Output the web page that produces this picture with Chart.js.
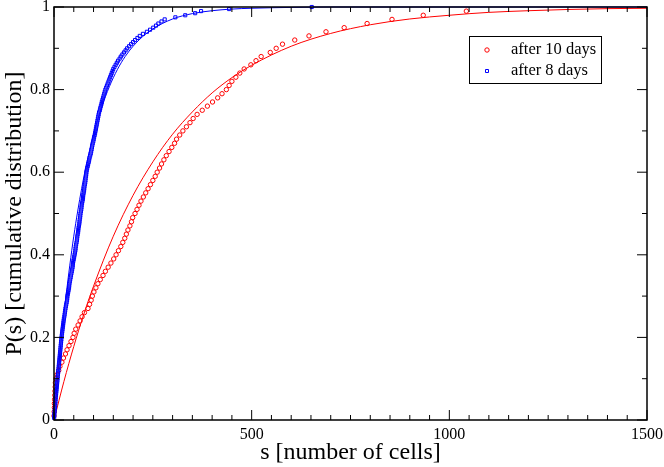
<!DOCTYPE html>
<html><head><meta charset="utf-8">
<script src="https://cdn.jsdelivr.net/npm/chart.js@4/dist/chart.umd.min.js"></script>
<style>html,body{margin:0;padding:0;background:#fff;overflow:hidden}</style>
</head><body>
<canvas id="c" width="664" height="467"></canvas>
<script>
const xTickLabels = ['0','500','1000','1500'];
const yTickLabels = ['0','0.2','0.4','0.6','0.8','1'];
const seriesNames = ['after 10 days','after 8 days'];
const xTitle = 's [number of cells]';
const yTitle = 'P(s) [cumulative distribution]';

// after 10 days (red circles)
const redS = [
 0,0.5,1,1,1.5,2,2.5,3,3.5,5,
 8,12,15,20,24,29,33,38,43,48,
 51,55,61,66,71,77,86,90,94,97,
 101,106,111,117,124,130,137,144,151,157,
 163,169,174,179,183,187,192,196,199,205,
 210,215,220,226,232,238,244,250,256,261,
 267,272,278,284,291,298,305,310,318,326,
 335,344,352,362,375,388,401,414,425,436,
 443,450,460,470,481,498,511,524,547,562,
 578,609,645,688,734,792,855,934,1043];
const redP = [
 0.01,0.02,0.03,0.04,0.05,0.06,0.07,0.08,0.09,0.10,
 0.11,0.12,0.13,0.14,0.15,0.16,0.17,0.18,0.19,0.20,
 0.21,0.22,0.23,0.24,0.25,0.26,0.27,0.28,0.29,0.30,
 0.31,0.32,0.33,0.34,0.35,0.36,0.37,0.38,0.39,0.40,
 0.41,0.42,0.43,0.44,0.45,0.46,0.47,0.48,0.49,0.50,
 0.51,0.52,0.53,0.54,0.55,0.56,0.57,0.58,0.59,0.60,
 0.61,0.62,0.63,0.64,0.65,0.66,0.67,0.68,0.69,0.70,
 0.71,0.72,0.73,0.74,0.75,0.76,0.77,0.78,0.79,0.80,
 0.81,0.82,0.83,0.84,0.85,0.86,0.87,0.88,0.89,0.90,
 0.91,0.92,0.93,0.94,0.95,0.96,0.97,0.98,0.99];

// after 8 days (blue squares)
const blueS = [
 0.3,0.7,1,1.5,2,2.5,3,3.3,3.7,4,
 4.5,5,5.5,6,6.5,7,7.5,8,8.5,9,
 9.5,10,10.5,11,11.5,12,12.5,13,13.5,14,
 14.5,15,15.5,16,16.5,17,17.5,18,18.5,19,
 19.7,20.3,21,21.6,22.3,23,23.6,24.3,25,26,
 26.8,27.5,28.3,29,30,31,32,33,33.5,34,
 35,36,37,38,38.5,39,40,41,42,43,
 44,45,46,47,47.5,48,49,50,51,52,
 53,54,54.5,55,56,57,58,58.5,59,60,
 61,61.5,62,63,64,64.5,65,66,66.5,67,
 68,69,69.5,70,71,72,73,73.5,74,75,
 76,76.5,77,78,79,79.5,80,81,81.5,82,
 83,84,85.5,86.5,88,89,90,91.5,93,94,
 95,96,97,98,99.5,100.5,101.5,103,104,105,
 106,107,108,109,110,111,112,113,114,116,
 117,118.5,120,121,122.5,124,125.5,127,128.5,130,
 132,134,136,138,140,142,144,146,148,150,
 153,156,159,162,166,169,173,177,181,185,
 190,195,200,205,211,217,225,235,243,251,
 258,264,272,280,307,332,357,372,443,652];
const blueP = [
 0.005,0.010,0.015,0.020,0.025,0.030,0.035,0.040,0.045,0.050,
 0.055,0.060,0.065,0.070,0.075,0.080,0.085,0.090,0.095,0.100,
 0.105,0.110,0.115,0.120,0.125,0.130,0.135,0.140,0.145,0.150,
 0.155,0.160,0.165,0.170,0.175,0.180,0.185,0.190,0.195,0.200,
 0.205,0.210,0.215,0.220,0.225,0.230,0.235,0.240,0.245,0.250,
 0.255,0.260,0.265,0.270,0.275,0.280,0.285,0.290,0.295,0.300,
 0.305,0.310,0.315,0.320,0.325,0.330,0.335,0.340,0.345,0.350,
 0.355,0.360,0.365,0.370,0.375,0.380,0.385,0.390,0.395,0.400,
 0.405,0.410,0.415,0.420,0.425,0.430,0.435,0.440,0.445,0.450,
 0.455,0.460,0.465,0.470,0.475,0.480,0.485,0.490,0.495,0.500,
 0.505,0.510,0.515,0.520,0.525,0.530,0.535,0.540,0.545,0.550,
 0.555,0.560,0.565,0.570,0.575,0.580,0.585,0.590,0.595,0.600,
 0.605,0.610,0.615,0.620,0.625,0.630,0.635,0.640,0.645,0.650,
 0.655,0.660,0.665,0.670,0.675,0.680,0.685,0.690,0.695,0.700,
 0.705,0.710,0.715,0.720,0.725,0.730,0.735,0.740,0.745,0.750,
 0.755,0.760,0.765,0.770,0.775,0.780,0.785,0.790,0.795,0.800,
 0.805,0.810,0.815,0.820,0.825,0.830,0.835,0.840,0.845,0.850,
 0.855,0.860,0.865,0.870,0.875,0.880,0.885,0.890,0.895,0.900,
 0.905,0.910,0.915,0.920,0.925,0.930,0.935,0.940,0.945,0.950,
 0.955,0.960,0.965,0.970,0.975,0.980,0.985,0.990,0.995,1.000];

// fitted curves
const redFitS = [0,25,50,75,100,150,200,250,300,350,400,450,500,600,700,800,900,1000,1100,1200,1300,1400,1500];
const redFitP = [0,0.093,0.178,0.255,0.324,0.445,0.544,0.625,0.692,0.746,0.792,0.829,0.859,0.905,0.936,0.957,0.971,0.980,0.987,0.991,0.994,0.996,0.997];
const blueFitS = [0,10,20,30,40,50,60,70,80,90,100,120,140,160,180,200,225,250,300,350,400,450,500,600,700,800,1000,1500];
const blueFitP = [0,0.111,0.210,0.297,0.375,0.445,0.506,0.561,0.610,0.653,0.692,0.756,0.807,0.848,0.880,0.905,0.929,0.947,0.971,0.984,0.991,0.995,0.997,0.999,1.0,1.0,1.0,1.0];

const RED = '#ff0000', BLUE = '#0000ff';
const toXY = (S, P) => S.map((s, i) => ({x: s, y: P[i]}));
const FONT = "'Liberation Serif','Times New Roman',Times,serif";
Chart.defaults.font.family = FONT;
Chart.defaults.color = '#000';

const framePlugin = {
  id: 'frameTicks',
  afterDraw(chart) {
    const ctx = chart.ctx, a = chart.chartArea, xs = chart.scales.x, ys = chart.scales.y;
    ctx.save();
    ctx.strokeStyle = '#000';
    ctx.lineWidth = 1;
    ctx.beginPath();
    for (let v = 0; v <= 1500; v += 50) {
      const L = (v % 500 === 0) ? 10 : 5;
      const px = xs.getPixelForValue(v);
      ctx.moveTo(px, a.bottom); ctx.lineTo(px, a.bottom - L);
      ctx.moveTo(px, a.top); ctx.lineTo(px, a.top + L);
    }
    for (let i = 0; i <= 10; i++) {
      const L = (i % 2 === 0) ? 10 : 5;
      const py = ys.getPixelForValue(i / 10);
      ctx.moveTo(a.left, py); ctx.lineTo(a.left + L, py);
      ctx.moveTo(a.right, py); ctx.lineTo(a.right - L, py);
    }
    ctx.stroke();
    ctx.lineWidth = 1.5;
    ctx.strokeRect(a.left, a.top, a.right - a.left, a.bottom - a.top);
    // legend
    const bx = a.left + 415, by = a.top + 29, bw = 132, bh = 47;
    ctx.fillStyle = '#fff';
    ctx.fillRect(bx, by, bw, bh);
    ctx.lineWidth = 1;
    ctx.strokeRect(bx + 0.5, by + 0.5, bw, bh);
    const items = [
      {t: seriesNames[0], c: RED, s: 'circle', y: by + 14},
      {t: seriesNames[1], c: BLUE, s: 'rect', y: by + 35}
    ];
    ctx.font = '16.5px ' + FONT;
    ctx.textBaseline = 'middle';
    ctx.textAlign = 'left';
    items.forEach(it => {
      ctx.strokeStyle = it.c;
      ctx.lineWidth = 1;
      ctx.beginPath();
      if (it.s === 'circle') ctx.arc(bx + 18, it.y, 2.2, 0, Math.PI * 2);
      else ctx.rect(bx + 16.5, it.y - 1.5, 3, 3);
      ctx.stroke();
      ctx.fillStyle = '#000';
      ctx.fillText(it.t, bx + 42, it.y);
    });
    ctx.restore();
  }
};

new Chart(document.getElementById('c'), {
  type: 'scatter',
  data: {
    datasets: [
      {label: seriesNames[1], data: toXY(blueS, blueP), pointStyle: 'rect', pointRadius: 2.2,
       borderColor: BLUE, backgroundColor: 'rgba(0,0,0,0)', borderWidth: 1, order: 1, clip: false},
      {label: seriesNames[0], data: toXY(redS, redP), pointStyle: 'circle', pointRadius: 2.2,
       borderColor: RED, backgroundColor: 'rgba(0,0,0,0)', borderWidth: 1, order: 2, clip: false},
      {label: 'fit 8', data: toXY(blueFitS, blueFitP), showLine: true, pointRadius: 0,
       borderColor: BLUE, borderWidth: 1, cubicInterpolationMode: 'monotone', order: 3, clip: false},
      {label: 'fit 10', data: toXY(redFitS, redFitP), showLine: true, pointRadius: 0,
       borderColor: RED, borderWidth: 1, cubicInterpolationMode: 'monotone', order: 4, clip: false}
    ]
  },
  options: {
    responsive: false,
    animation: false,
    layout: {padding: {top: 7, right: 17, left: 0, bottom: 0}},
    plugins: {legend: {display: false}, tooltip: {enabled: false}},
    scales: {
      x: {
        type: 'linear', min: 0, max: 1500,
        ticks: {stepSize: 500, callback: (v, i) => xTickLabels[i], font: {size: 16}, color: '#000', padding: 5, maxRotation: 0},
        grid: {display: false, drawTicks: false},
        border: {display: false},
        title: {display: true, text: xTitle, font: {size: 24, lineHeight: 1.2}, color: '#000', padding: 0},
        afterFit(s) { s.height = 47; s.paddingLeft = 0; s.paddingRight = 0; }
      },
      y: {
        type: 'linear', min: 0, max: 1,
        ticks: {stepSize: 0.2, callback: (v, i) => yTickLabels[i], font: {size: 16}, color: '#000', padding: 4},
        grid: {display: false, drawTicks: false},
        border: {display: false},
        title: {display: true, text: yTitle, font: {size: 24, lineHeight: 1.2}, color: '#000', padding: 0},
        afterFit(s) { s.width = 54; s.paddingTop = 0; s.paddingBottom = 0; }
      }
    }
  },
  plugins: [framePlugin]
});
</script>
</body></html>
